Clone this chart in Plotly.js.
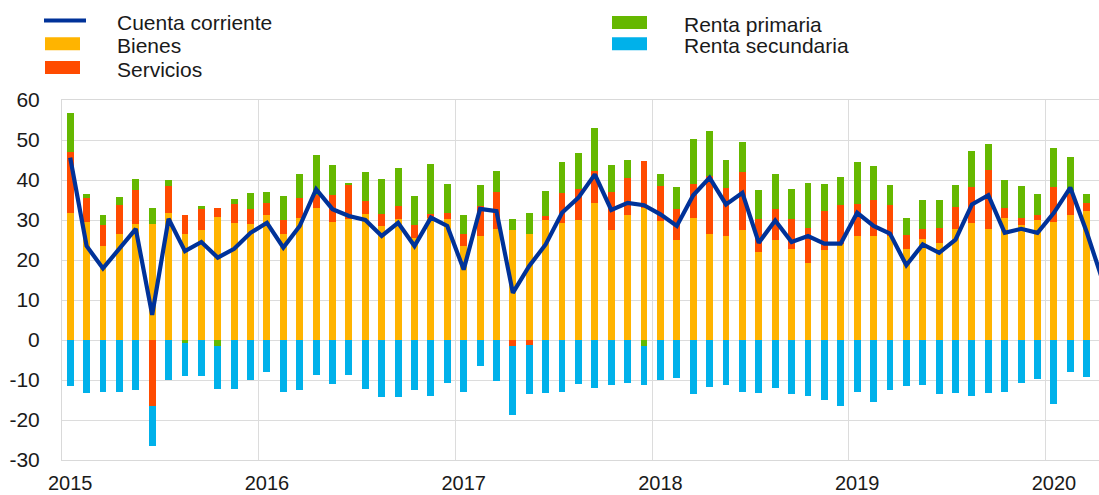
<!DOCTYPE html>
<html>
<head>
<meta charset="utf-8">
<script src="https://cdn.plot.ly/plotly-3.0.1.min.js"></script>
<style>
html,body{margin:0;padding:0;background:#fff;}
#chart{width:1099px;height:495px;}
</style>
</head>
<body>
<div id="chart"></div>
<script>
// Monthly data, January 2015 – April 2020 (EUR bn)
const months = [
 "2015-01","2015-02","2015-03","2015-04","2015-05","2015-06","2015-07","2015-08","2015-09","2015-10","2015-11","2015-12",
 "2016-01","2016-02","2016-03","2016-04","2016-05","2016-06","2016-07","2016-08","2016-09","2016-10","2016-11","2016-12",
 "2017-01","2017-02","2017-03","2017-04","2017-05","2017-06","2017-07","2017-08","2017-09","2017-10","2017-11","2017-12",
 "2018-01","2018-02","2018-03","2018-04","2018-05","2018-06","2018-07","2018-08","2018-09","2018-10","2018-11","2018-12",
 "2019-01","2019-02","2019-03","2019-04","2019-05","2019-06","2019-07","2019-08","2019-09","2019-10","2019-11","2019-12",
 "2020-01","2020-02","2020-03","2020-04"
];

const bienes = [
 31.8, 29.5, 23.5, 26.6, 28.9, 28.9, 31.8, 26.4, 27.5, 30.7, 29.3, 28.9,
 31.2, 26.6, 30.6, 33.1, 29.5, 30.2, 31.4, 28.5, 30.3, 25.6, 30.6, 30.3,
 23.5, 26.1, 27.7, 27.5, 26.6, 30.0, 29.3, 29.9, 34.2, 27.4, 31.2, 33.1,
 29.7, 24.9, 30.5, 26.4, 26.0, 27.4, 22.1, 25.1, 22.8, 19.3, 22.6, 23.9,
 26.0, 26.1, 26.0, 22.8, 25.3, 24.3, 27.7, 29.3, 27.7, 30.6, 28.7, 30.0,
 29.5, 31.2, 32.2, 20.0
];

const servicios = [
 15.1, 5.9, 5.2, 7.2, 8.5, -16.5, 6.7, 4.8, 5.2, 2.4, 4.6, 3.9,
 3.0, 3.3, 4.8, 3.1, 6.7, 8.5, 3.4, 2.9, 3.2, 3.1, 0.8, 1.5,
 3.1, 7.4, 9.3, -1.6, -1.2, 1.0, 7.5, 7.8, 8.1, 9.6, 9.2, 11.7,
 8.8, 7.8, 8.4, 14.6, 12.1, 14.6, 8.1, 7.7, 7.5, 8.8, 9.6, 9.9,
 8.1, 8.8, 7.7, 3.4, 2.5, 3.8, 5.6, 9.0, 14.7, 2.5, 1.7, 1.2,
 8.8, 5.4, 2.1, 2.0
];

const rentaPrimaria = [
 9.8, 1.2, 2.5, 1.9, 2.8, 4.2, 1.5, -0.7, 0.8, -1.4, 1.4, 3.9,
 2.9, 6.1, 6.0, 10.0, 7.5, 0.5, 7.2, 8.8, 9.4, 7.3, 12.7, 7.3,
 4.6, 5.2, 5.3, 2.7, 5.2, 6.3, 7.7, 9.0, 10.7, 6.8, 4.6, -1.4,
 2.9, 5.6, 11.3, 11.3, 6.9, 7.5, 7.3, 8.6, 7.5, 11.2, 6.7, 7.0,
 10.3, 8.6, 5.1, 4.2, 7.1, 6.8, 5.4, 9.0, 6.7, 6.8, 8.1, 5.4,
 9.6, 9.2, 2.3, 4.0
];

const rentaSecundaria = [
 -11.4, -13.3, -13.1, -12.9, -12.6, -9.9, -10.1, -8.2, -9.1, -10.9, -12.3, -10.1,
 -8.1, -12.9, -12.4, -8.7, -10.9, -8.7, -12.3, -14.3, -14.3, -12.6, -14.0, -10.8,
 -13.1, -6.4, -10.2, -17.1, -12.3, -13.3, -12.9, -10.9, -11.9, -11.2, -10.8, -9.8,
 -10.1, -9.5, -13.5, -11.8, -11.2, -12.9, -13.3, -11.9, -13.4, -13.9, -15.0, -16.6,
 -12.9, -15.5, -12.4, -11.6, -11.2, -13.5, -13.3, -14.0, -13.3, -13.0, -10.8, -9.8,
 -16.0, -8.1, -9.3, -11.5
];

const cuentaCorriente = [
 45.6, 23.5, 17.9, 22.8, 27.8, 6.3, 30.3, 22.2, 24.5, 20.6, 22.8, 26.8,
 29.3, 23.1, 28.5, 37.7, 32.7, 31.0, 30.0, 26.0, 29.3, 23.5, 30.6, 28.5,
 17.6, 32.8, 32.2, 11.8, 18.5, 23.9, 31.8, 35.6, 41.4, 32.5, 34.3, 33.7,
 31.4, 28.5, 36.2, 40.6, 33.9, 36.8, 24.3, 29.9, 24.5, 26.0, 24.1, 24.1,
 31.8, 28.5, 26.6, 18.7, 23.9, 21.8, 25.1, 33.9, 36.2, 26.8, 27.8, 26.8,
 31.8, 38.1, 27.0, 14.5
];

const yearLabels = ["2015","2016","2017","2018","2019","2020"];
const yTickVals = [-30, -20, -10, 0, 10, 20, 30, 40, 50, 60];
const yTickText = ["-30","-20","-10","0","10","20","30","40","50","60"];

const colors = {
  "Cuenta corriente":"#003299",
  "Bienes":"#FFB400",
  "Servicios":"#FF4B00",
  "Renta primaria":"#65B800",
  "Renta secundaria":"#00B1EA"
};

// x position: month index, bar centred in the middle of its month
const xs = months.map((m, i) => i + 0.5);
const yearTickVals = yearLabels.map((y, k) => k * 12 + 0.5);

const barW = 0.42;
function barTrace(name, vals){
  return {type:"bar", name:name, x:xs, y:vals, width:barW,
          marker:{color:colors[name], line:{width:0}}, showlegend:false, hoverinfo:"x+y+name"};
}

const traces = [
  barTrace("Bienes", bienes),
  barTrace("Servicios", servicios),
  barTrace("Renta primaria", rentaPrimaria),
  barTrace("Renta secundaria", rentaSecundaria),
  {type:"scatter", mode:"lines", name:"Cuenta corriente", x:xs, y:cuentaCorriente,
   line:{color:colors["Cuenta corriente"], width:4.2}, showlegend:false}
];

// plot area geometry (pixels)
const L = 62, R = 1099, T = 100, B = 460;
const px = p => (p - L) / (R - L);
const py = p => (B - p) / (B - T);

// manual legend (wide swatches as in original)
const legendItems = [
  {name:"Cuenta corriente", x0:44, x1:86, yc:20.5, kind:"line", tx:115},
  {name:"Bienes",           x0:45, x1:80, yc:43.7, kind:"box", tx:115},
  {name:"Servicios",        x0:45, x1:80, yc:67.5, kind:"box", tx:115},
  {name:"Renta primaria",   x0:612, x1:647, yc:22.5, kind:"box", tx:682},
  {name:"Renta secundaria", x0:612, x1:647, yc:43.7, kind:"box", tx:682}
];
const shapes = [];
const annotations = [];
legendItems.forEach(it => {
  if (it.kind === "line") {
    shapes.push({type:"line", xref:"paper", yref:"paper",
      x0:px(it.x0), x1:px(it.x1), y0:py(it.yc), y1:py(it.yc),
      line:{color:colors[it.name], width:4}});
  } else {
    shapes.push({type:"rect", xref:"paper", yref:"paper",
      x0:px(it.x0), x1:px(it.x1), y0:py(it.yc - 6.5), y1:py(it.yc + 6.5),
      fillcolor:colors[it.name], line:{width:0}});
  }
  annotations.push({xref:"paper", yref:"paper", x:px(it.tx), y:py(it.yc + 2),
    xanchor:"left", yanchor:"middle", showarrow:false, text:it.name,
    font:{family:"Liberation Sans, Arial, sans-serif", size:21, color:"#1a1a1a"}});
});

const layout = {
  width:1099, height:495,
  margin:{l:L, r:1099 - R, t:T, b:495 - B, pad:0},
  paper_bgcolor:"#ffffff", plot_bgcolor:"#ffffff",
  barmode:"relative", bargap:0,
  showlegend:false,
  font:{family:"Liberation Sans, Arial, sans-serif", size:21, color:"#1a1a1a"},
  xaxis:{
    range:[0, (R - L) / 16.395], fixedrange:true,
    tickmode:"array", tickvals:yearTickVals, ticktext:yearLabels,
    showgrid:false, zeroline:false,
    ticks:"outside", ticklen:5, tickcolor:"rgba(0,0,0,0)",
    showline:true, linecolor:"#d9d9d9", linewidth:1, mirror:true,
    tickfont:{size:20, color:"#1a1a1a"},
    minor:{tickmode:"linear", tick0:0, dtick:12, showgrid:true, gridcolor:"#dcdcdc", gridwidth:1, ticks:""}
  },
  yaxis:{
    range:[-30, 60], fixedrange:true,
    tickmode:"array", tickvals:yTickVals, ticktext:yTickText,
    showgrid:true, gridcolor:"#dcdcdc", gridwidth:1,
    zeroline:false,
    ticks:"outside", ticklen:17, tickcolor:"rgba(0,0,0,0)",
    showline:true, linecolor:"#d9d9d9", linewidth:1, mirror:true,
    tickfont:{size:21, color:"#1a1a1a"}
  },
  shapes:shapes,
  annotations:annotations
};

Plotly.newPlot("chart", traces, layout, {displayModeBar:false, staticPlot:true});
</script>
</body>
</html>
